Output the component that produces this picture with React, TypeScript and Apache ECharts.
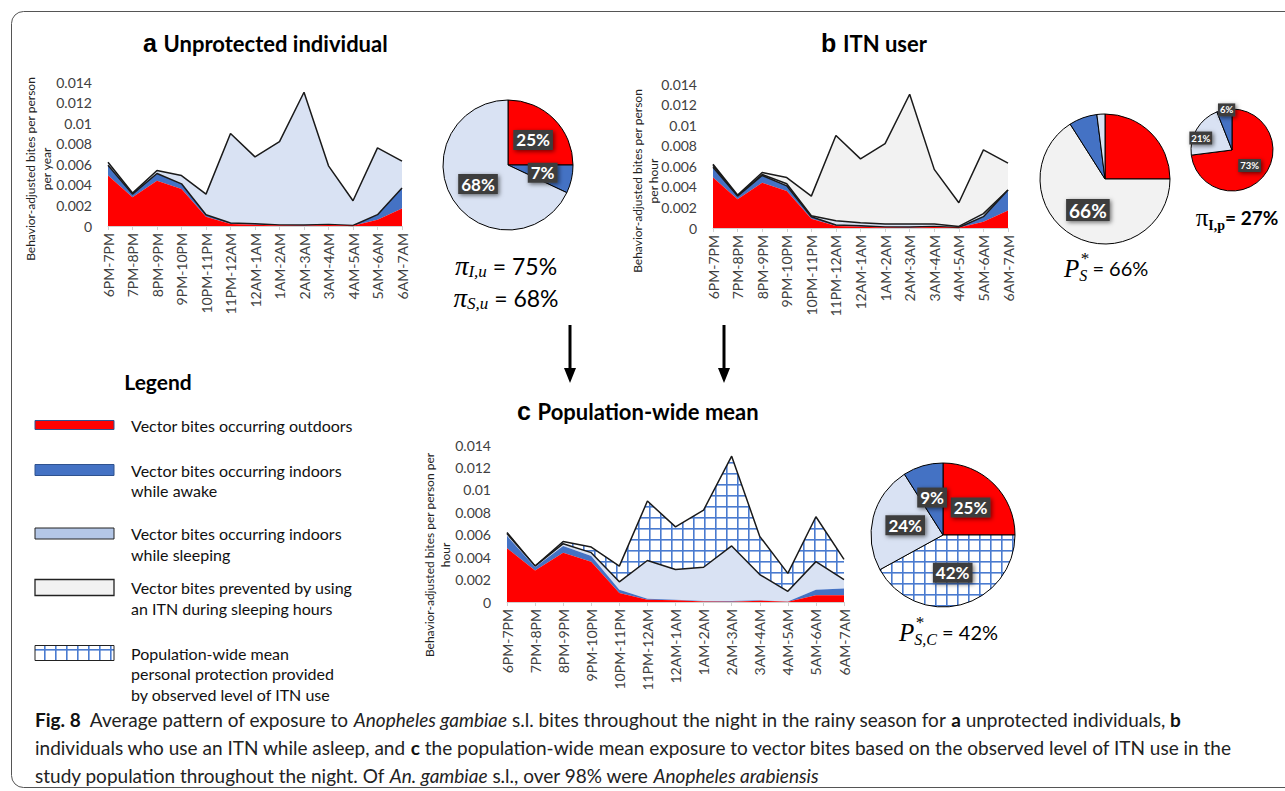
import { useEffect, useRef } from "react";
import * as echarts from "echarts";

// Hour-of-night categories shared by all three panels
const hours = [
  "6PM-7PM", "7PM-8PM", "8PM-9PM", "9PM-10PM", "10PM-11PM", "11PM-12AM",
  "12AM-1AM", "1AM-2AM", "2AM-3AM", "3AM-4AM", "4AM-5AM", "5AM-6AM", "6AM-7AM",
];

const yMax = 0.014;
const yStep = 0.002;

// a — unprotected individual (stacked layers)
const outdoorA = [0.0049, 0.0028, 0.0044, 0.0036, 0.0009, 0.0002, 0.00012, 0.00004, 0.00003, 0.0001, 0.00003, 0.0006, 0.0017];
const indoorAwakeA = [0.001, 0.0003, 0.0007, 0.0005, 0.0002, 0.0001, 0.0001, 0.00006, 0.00007, 0.00005, 0.00002, 0.0005, 0.002];
const indoorSleepingA = [0.0003, 0.0001, 0.0003, 0.0008, 0.002, 0.0087, 0.0065, 0.0081, 0.0129, 0.0057, 0.0024, 0.0065, 0.0026];

// b — ITN user (stacked layers)
const outdoorB = [0.0049, 0.0028, 0.0044, 0.0036, 0.0009, 0.0002, 0.00012, 0.00004, 0.00003, 0.0001, 0.00003, 0.0006, 0.0017];
const indoorAwakeB = [0.001, 0.0003, 0.0007, 0.0005, 0.0002, 0.0001, 0.0001, 0.00006, 0.00007, 0.00005, 0.00002, 0.0005, 0.002];
const indoorSleepingB = [0.0002, 0.0, 0.0001, 0.0002, 0.0001, 0.0004, 0.0003, 0.0003, 0.0003, 0.00025, 0.0001, 0.0003, 0.0];
const preventedB = [0.0001, 0.0001, 0.0002, 0.0006, 0.0019, 0.0083, 0.0062, 0.0078, 0.0126, 0.0053, 0.0023, 0.0062, 0.0026];

// c — population-wide mean (stacked layers)
const outdoorC = [0.0048, 0.0028, 0.0044, 0.0036, 0.0008, 0.0002, 0.00015, 0.00005, 0.00003, 0.00012, 0.00003, 0.0006, 0.0006];
const indoorAwakeC = [0.0011, 0.0003, 0.0006, 0.0005, 0.0003, 0.0001, 0.00005, 0.00005, 0.00007, 0.00003, 0.00002, 0.0005, 0.0006];
const indoorSleepingC = [0.0002, 0.0001, 0.0002, 0.0003, 0.0007, 0.0034, 0.0027, 0.003, 0.0049, 0.0023, 0.0009, 0.0025, 0.0008];
const protectionC = [0.0001, 0.0, 0.0002, 0.0005, 0.0014, 0.0053, 0.0038, 0.0051, 0.008, 0.0034, 0.0016, 0.004, 0.0018];

// Pie shares (%)
const pieA = [25, 7, 68]; // outdoors, indoors awake, indoors sleeping
const pieB = [25, 66, 7, 2]; // outdoors, prevented, indoors awake, indoors sleeping
const pieBProtected = [73, 21, 6]; // outdoors, indoors sleeping, indoors awake
const pieC = [25, 42, 24, 9]; // outdoors, protection, indoors sleeping, indoors awake

const RED = "#FF0000";
const BLUE = "#4472C4";
const LIGHT = "#D9E2F3";
const GRAY = "#F2F2F2";
const INK = "#1a1a1a";
const AXIS_TEXT = "#404040";

function gridTile() {
  const size = 11;
  const c = document.createElement("canvas");
  c.width = size;
  c.height = size;
  const g = c.getContext("2d")!;
  g.fillStyle = "#ffffff";
  g.fillRect(0, 0, size, size);
  g.fillStyle = "#4a7bd0";
  g.fillRect(0, 0, size, 1.6);
  g.fillRect(0, 0, 1.6, size);
  return { image: c.toDataURL(), repeat: "repeat", imageWidth: size, imageHeight: size };
}

function area(name: string, data: number[], idx: number, color: any, outlined: boolean, z: number) {
  return {
    type: "line",
    name,
    data,
    xAxisIndex: idx,
    yAxisIndex: idx,
    stack: "stack" + idx,
    symbol: "none",
    showSymbol: false,
    silent: true,
    z,
    lineStyle: outlined ? { color: INK, width: 1.5 } : { width: 0, color },
    areaStyle: { color, opacity: 1 },
  };
}

const pieLabel = (size: number) => ({
  show: true,
  position: "inside",
  formatter: (p: any) => p.value + "%",
  color: "#ffffff",
  fontWeight: "bold",
  fontFamily: "Lato",
  fontSize: size,
  backgroundColor: "#3d3d3d",
  padding: [2, 3, 1, 3],
  shadowBlur: 4,
  shadowColor: "rgba(0,0,0,0.55)",
  shadowOffsetX: 1.5,
  shadowOffsetY: 1.5,
});

const pieBase = {
  type: "pie",
  startAngle: 90,
  clockwise: true,
  silent: true,
  avoidLabelOverlap: false,
  labelLine: { show: false },
  emphasis: { disabled: true },
  itemStyle: { borderColor: "#000", borderWidth: 1 },
};

function xAxis(i: number) {
  return {
    type: "category",
    gridIndex: i,
    data: hours,
    boundaryGap: false,
    axisLine: { lineStyle: { color: "#d0d0d0", width: 1 } },
    axisTick: { show: true, length: 4, lineStyle: { color: "#d0d0d0" } },
    axisLabel: { rotate: 90, interval: 0, fontSize: 14, color: AXIS_TEXT, fontFamily: "Lato", margin: 7 },
  };
}

function yAxis(i: number) {
  return {
    type: "value",
    gridIndex: i,
    min: 0,
    max: yMax,
    interval: yStep,
    splitLine: { show: false },
    axisLine: { show: false },
    axisTick: { show: false },
    axisLabel: {
      color: AXIS_TEXT,
      fontSize: 14,
      fontFamily: "Lato",
      margin: 16,
      formatter: (v: number) => String(+v.toFixed(3)),
    },
  };
}

function axisName(x: number, y: number, text: string) {
  return {
    type: "text",
    x,
    y,
    rotation: Math.PI / 2,
    style: {
      text,
      fill: "#222",
      font: '12px "Lato"',
      lineHeight: 16,
      textAlign: "center",
      textVerticalAlign: "middle",
    },
  };
}

function title(x: number, y: number, letter: string, text: string) {
  return {
    type: "text",
    x,
    y,
    style: {
      text: `{l|${letter}}  {t|${text}}`,
      textVerticalAlign: "middle",
      rich: {
        l: { fontFamily: "Liberation Sans", fontWeight: "bold", fontSize: 25, fill: "#000" },
        t: { fontFamily: "Lato", fontWeight: "bold", fontSize: 22, fill: "#000" },
      },
    },
  };
}

const serif = "Liberation Serif";

function piSymbol(x: number, y: number, sub: string, rest: string) {
  return {
    type: "text",
    x,
    y,
    style: {
      text: `{p|π}{s|${sub}}{e| ${rest}}`,
      textAlign: "center",
      textVerticalAlign: "middle",
      rich: {
        p: { fontFamily: serif, fontStyle: "italic", fontSize: 27, lineHeight: 30, fill: "#000" },
        s: { fontFamily: serif, fontStyle: "italic", fontSize: 17, lineHeight: 30, verticalAlign: "bottom", padding: [0, 0, 1, 0], fill: "#000" },
        e: { fontFamily: "Lato", fontSize: 23, lineHeight: 30, fill: "#000" },
      },
    },
  };
}

function pStar(x: number, y: number, sub: string, rest: string) {
  return {
    type: "group",
    x,
    y,
    children: [
      {
        type: "text",
        x: 0,
        y: 0,
        style: {
          text: `{p|P}{s|${sub}}{e|${rest}}`,
          textVerticalAlign: "middle",
          rich: {
            p: { fontFamily: serif, fontStyle: "italic", fontSize: 25, lineHeight: 30, fill: "#000" },
            s: { fontFamily: serif, fontStyle: "italic", fontSize: 16, lineHeight: 30, verticalAlign: "bottom", fill: "#000" },
            e: { fontFamily: "Lato", fontSize: 20, lineHeight: 30, fill: "#000" },
          },
        },
      },
      {
        type: "text",
        x: 16,
        y: -10,
        style: { text: "*", font: 'italic 17px "Liberation Serif"', fill: "#000", textVerticalAlign: "middle" },
      },
    ],
  };
}

function legendItem(y: number, h: number, lines: string[], swatch: any) {
  return [
    { type: "rect", shape: { x: 35, y: y - h / 2, width: 79, height: h }, style: swatch },
    {
      type: "text",
      x: 131,
      y: y + ((lines.length - 1) * 20.7) / 2,
      style: {
        text: lines.join("\n"),
        font: '16px "Lato"',
        lineHeight: 20.7,
        fill: "#111",
        textVerticalAlign: "middle",
      },
    },
  ];
}

function arrow(x: number) {
  return [
    { type: "line", shape: { x1: x, y1: 325, x2: x, y2: 370 }, style: { stroke: "#000", lineWidth: 3 } },
    { type: "polygon", shape: { points: [[x - 6, 368], [x + 6, 368], [x, 383]] }, style: { fill: "#000" } },
  ];
}

const captionRich = {
  b: { fontFamily: "Lato", fontWeight: "bold", fontSize: 19, fill: "#111" },
  n: { fontFamily: "Lato", fontSize: 19, fill: "#222" },
  i: { fontFamily: "Lato", fontStyle: "italic", fontSize: 19, fill: "#222" },
};

function captionLine(y: number, text: string) {
  return { type: "text", x: 35, y, style: { text, textVerticalAlign: "middle", rich: captionRich } };
}

export default function App() {
  const ref = useRef<HTMLDivElement>(null);

  useEffect(() => {
    if (!ref.current) return;
    const chart = echarts.init(ref.current, null, { renderer: "svg" });
    const hatch = gridTile();

    const option: any = {
      animation: false,
      backgroundColor: "#ffffff",
      textStyle: { fontFamily: "Lato" },
      grid: [
        { left: 108, top: 82, width: 294, height: 144, outerBoundsMode: "none" },
        { left: 713, top: 84, width: 295, height: 144, outerBoundsMode: "none" },
        { left: 507, top: 445, width: 337, height: 157, outerBoundsMode: "none" },
      ],
      xAxis: [xAxis(0), xAxis(1), xAxis(2)],
      yAxis: [yAxis(0), yAxis(1), yAxis(2)],
      series: [
        area("Vector bites occurring outdoors", outdoorA, 0, RED, false, 6),
        area("Vector bites occurring indoors while awake", indoorAwakeA, 0, BLUE, true, 5),
        area("Vector bites occurring indoors while sleeping", indoorSleepingA, 0, LIGHT, true, 4),

        area("Vector bites occurring outdoors", outdoorB, 1, RED, false, 6),
        area("Vector bites occurring indoors while awake", indoorAwakeB, 1, BLUE, true, 5),
        area("Vector bites occurring indoors while sleeping", indoorSleepingB, 1, LIGHT, true, 4),
        area("Vector bites prevented by using an ITN", preventedB, 1, GRAY, true, 3),

        area("Vector bites occurring outdoors", outdoorC, 2, RED, false, 6),
        area("Vector bites occurring indoors while awake", indoorAwakeC, 2, BLUE, false, 5),
        area("Vector bites occurring indoors while sleeping", indoorSleepingC, 2, LIGHT, true, 4),
        area("Population-wide mean personal protection", protectionC, 2, hatch, true, 3),

        {
          ...pieBase,
          center: [508, 165],
          radius: 65,
          label: pieLabel(17),
          data: [
            { value: pieA[0], itemStyle: { color: RED } },
            { value: pieA[1], itemStyle: { color: BLUE } },
            { value: pieA[2], itemStyle: { color: LIGHT } },
          ],
        },
        {
          ...pieBase,
          center: [1105, 179],
          radius: 65,
          label: pieLabel(19),
          data: [
            { value: pieB[0], itemStyle: { color: RED }, label: { show: false } },
            { value: pieB[1], itemStyle: { color: GRAY } },
            { value: pieB[2], itemStyle: { color: BLUE }, label: { show: false } },
            { value: pieB[3], itemStyle: { color: LIGHT }, label: { show: false } },
          ],
        },
        {
          ...pieBase,
          center: [1232, 150],
          radius: 41,
          label: { ...pieLabel(9.5), padding: [2, 2, 1, 2] },
          labelLayout: (p: any) => (p.dataIndex === 1 ? { dx: -11, dy: 0 } : p.dataIndex === 2 ? { dx: -1, dy: -17 } : {}),
          data: [
            { value: pieBProtected[0], itemStyle: { color: RED } },
            { value: pieBProtected[1], itemStyle: { color: LIGHT } },
            { value: pieBProtected[2], itemStyle: { color: BLUE } },
          ],
        },
        {
          ...pieBase,
          center: [943, 535],
          radius: 72,
          label: pieLabel(17),
          data: [
            { value: pieC[0], itemStyle: { color: RED } },
            { value: pieC[1], itemStyle: { color: hatch } },
            { value: pieC[2], itemStyle: { color: LIGHT } },
            { value: pieC[3], itemStyle: { color: BLUE } },
          ],
        },
      ],
      graphic: [
        {
          type: "rect",
          shape: { x: 11.5, y: 11.5, width: 1300, height: 776, r: 12 },
          style: { fill: "none", stroke: "#555", lineWidth: 1 },
          z: -1,
        },
        title(143, 43, "a", "Unprotected individual"),
        title(821, 43, "b", "ITN user"),
        title(517, 411, "c", "Population-wide mean"),

        axisName(38, 169, "Behavior-adjusted bites per person\nper year"),
        axisName(645, 181, "Behavior-adjusted bites per person\nper hour"),
        axisName(437, 555, "Behavior-adjusted bites per person per\nhour"),

        piSymbol(506, 266, "I,u", "= 75%"),
        piSymbol(506, 298, "S,u", "= 68%"),
        pStar(1064, 268, "S", " = 66%"),
        {
          type: "text",
          x: 1237,
          y: 217,
          style: {
            text: "{p|π}{s|I,p}{e|= 27%}",
            textAlign: "center",
            textVerticalAlign: "middle",
            rich: {
              p: { fontFamily: serif, fontSize: 25, lineHeight: 30, fill: "#000" },
              s: { fontFamily: serif, fontWeight: "bold", fontSize: 14, lineHeight: 30, verticalAlign: "bottom", fill: "#000" },
              e: { fontFamily: "Lato", fontWeight: "bold", fontSize: 19, lineHeight: 30, fill: "#000" },
            },
          },
        },
        pStar(899, 632, "S,C", " = 42%"),

        ...arrow(570),
        ...arrow(724),

        {
          type: "text",
          x: 158,
          y: 381,
          style: { text: "Legend", font: 'bold 21px "Lato"', fill: "#000", textAlign: "center", textVerticalAlign: "middle" },
        },
        ...legendItem(425, 9, ["Vector bites occurring outdoors"], { fill: RED, stroke: "#2F528F", lineWidth: 1 }),
        ...legendItem(470, 11, ["Vector bites occurring indoors", "while awake"], { fill: BLUE, stroke: "#2F528F", lineWidth: 1 }),
        ...legendItem(533.5, 11, ["Vector bites occurring indoors", "while sleeping"], { fill: "#B4C7E7", stroke: "#222", lineWidth: 1 }),
        ...legendItem(587.5, 16, ["Vector bites prevented by using", "an ITN during sleeping hours"], { fill: GRAY, stroke: "#222", lineWidth: 1.3 }),
        ...legendItem(653, 15, ["Population-wide mean", "personal protection provided", "by observed level of ITN use"], { fill: hatch, stroke: "#222", lineWidth: 1 }),

        captionLine(
          719,
          "{b|Fig. 8}{n|  Average pattern of exposure to }{i|Anopheles gambiae}{n| s.l. bites throughout the night in the rainy season for }{b|a}{n| unprotected individuals, }{b|b}"
        ),
        captionLine(
          747,
          "{n|individuals who use an ITN while asleep, and }{b|c}{n| the population-wide mean exposure to vector bites based on the observed level of ITN use in the}"
        ),
        captionLine(
          775,
          "{n|study population throughout the night. Of }{i|An. gambiae}{n| s.l., over 98% were }{i|Anopheles arabiensis}"
        ),
      ],
    };

    chart.setOption(option);
    return () => chart.dispose();
  }, []);

  return (
    <div
      ref={ref}
      style={{ position: "fixed", left: 0, top: 0, width: 1285, height: 791, background: "#fff" }}
    />
  );
}
